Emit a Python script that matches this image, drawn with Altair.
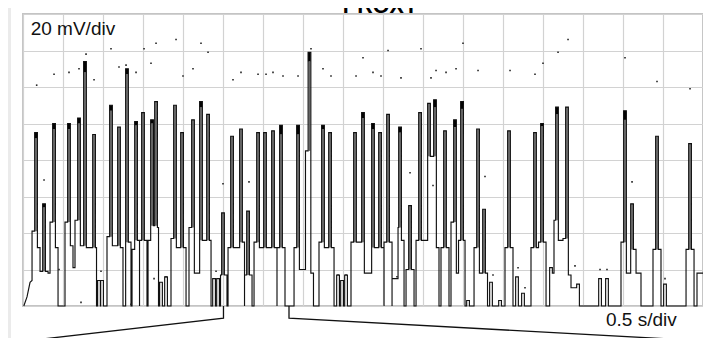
import altair as alt
import pandas as pd

# ---- scope settings ----
V_PER_DIV = 20      # mV per division
T_PER_DIV = 0.5     # s per division
T_MAX = 8.5         # 17 divisions
V_MAX = 160         # 8 divisions
x_ticks = [0.0, 0.5, 1.0, 1.5, 2.0, 2.5, 3.0, 3.5, 4.0, 4.5, 5.0, 5.5,
           6.0, 6.5, 7.0, 7.5, 8.0, 8.5]
y_ticks = [0, 20, 40, 60, 80, 100, 120, 140, 160]
title_text = "PROXY"

# ---- trace, read as pulses (time s, levels mV) ----
pulse_t = [0.163, 0.263, 0.388, 0.575, 0.700, 0.775, 0.888, 0.950, 0.988, 1.100,
           1.200, 1.300, 1.413, 1.500, 1.613, 1.663, 1.725, 1.788, 1.900, 1.988,
           2.125, 2.225, 2.313, 2.388, 2.438, 2.500, 2.613, 2.725, 2.813, 2.938,
           3.025, 3.125, 3.225, 3.438, 3.581, 3.750, 3.838, 3.938, 3.988, 4.038,
           4.150, 4.250, 4.375, 4.463, 4.563, 4.663, 4.713, 4.838, 4.963, 5.075,
           5.150, 5.275, 5.400, 5.488, 5.563, 5.688, 5.763, 5.850, 5.963, 6.075,
           6.175, 6.250, 6.400, 6.488, 6.600, 6.675, 6.800, 6.938, 7.213, 7.300,
           7.525, 7.613, 7.775, 7.925, 8.025, 8.338, 8.475]
pulse_peak = [95, 56, 100, 100, 103, 134, 94, 14, 14, 110,
              98, 130, 101, 106, 102, 112, 13, 16, 110, 95,
              102, 112, 105, 15, 15, 51, 93, 97, 52, 95,
              95, 96, 99, 99, 139, 99, 95, 17, 14, 17,
              95, 106, 100, 95, 105, 15, 98, 55, 106, 111,
              113, 96, 102, 112, 3, 97, 53, 13, 3, 96,
              16, 7, 95, 100, 21, 109, 109, 12, 15, 15,
              107, 56, 0, 93, 12, 89, 18]
pulse_left = [41, 19, 46, 46, 47, 33, 32, 0, 0, 38,
              33, 0, 31, 36, 36, 44, 0, 0, 37, 32,
              43, 18, 36, 0, 0, 17, 32, 32, 17, 35,
              32, 32, 32, 32, 85, 35, 32, 0, 0, 0,
              35, 35, 18, 32, 35, 15, 43, 20, 36, 36,
              82, 32, 46, 36, 0, 32, 18, 0, 0, 32,
              0, 0, 32, 35, 0, 47, 37, 10, 0, 0,
              35, 18, 0, 31, 0, 31, 18]
pulse_right = [32, 19, 32, 33, 33, 32, 32, 0, 0, 33,
               32, 35, 36, 36, 44, 43, 0, 0, 32, 32,
               18, 36, 36, 0, 0, 17, 32, 35, 17, 32,
               32, 32, 32, 20, 18, 32, 32, 0, 0, 0,
               35, 18, 32, 32, 35, 15, 36, 20, 36, 82,
               32, 32, 18, 36, 0, 18, 18, 0, 0, 32,
               0, 0, 32, 35, 18, 36, 17, 0, 0, 0,
               18, 31, 0, 31, 0, 31, 18]
pulse_after = [19, 18, 0, 21, 33, 32, 0, 0, 0, 33,
               0, 0, 0, 0, 44, 0, 0, 0, 32, 0,
               18, 36, 0, 0, 0, 0, 32, 0, 0, 32,
               32, 0, 0, 20, 0, 32, 0, 0, 0, 0,
               35, 18, 32, 0, 0, 15, 0, 0, 36, 82,
               0, 0, 18, 0, 0, 18, 0, 0, 0, 0,
               0, 0, 32, 0, 18, 36, 10, 0, 0, 0,
               18, 18, 0, 0, 0, 0, 18]
pulse_cap = [3, 2, 3, 3, 3, 6, 0, 0, 0, 3,
             0, 3, 2, 0, 2, 0, 0, 0, 0, 0,
             0, 3, 0, 0, 0, 0, 0, 0, 0, 0,
             0, 0, 5, 5, 5, 2, 0, 0, 0, 0,
             0, 3, 3, 0, 0, 0, 3, 0, 0, 0,
             4, 0, 4, 4, 0, 0, 0, 0, 0, 0,
             0, 0, 0, 1.5, 0, 4, 0, 0, 0, 0,
             5, 0, 0, 0, 0, 0, 0]
lead_t = [0.01, 0.05, 0.088]
lead_v = [0, 5, 13]
lead_level = 14
end_t = 8.5

# ---- peak-detect dots ----
dot_t = [0.171, 0.388, 0.575, 0.700, 0.788, 0.888, 1.100, 1.200, 1.288, 1.413,
         1.513, 1.600, 1.663, 1.913, 2.000, 2.125, 2.225, 2.313, 2.625, 2.725,
         2.938, 3.038, 3.125, 3.250, 3.438, 3.600, 3.750, 3.850, 4.163, 4.250,
         4.375, 4.475, 4.563, 4.725, 4.975, 5.100, 5.163, 5.288, 5.413, 5.500,
         5.688, 6.088, 6.400, 6.500, 6.688, 6.813, 7.525, 7.925, 8.338,
         0.263, 0.450, 0.725, 0.975, 1.350, 1.638, 1.788, 2.413, 2.500, 2.825,
         3.938, 4.038, 4.675, 4.838, 5.125, 5.775, 5.875, 6.188, 6.275, 6.900,
         7.213, 7.300, 7.613, 8.025]
dot_v = [121, 127, 128, 130, 138, 124, 141, 131, 132, 128,
         141, 133, 144, 146, 126, 130, 144, 139, 124, 128,
         127, 127, 128, 126, 126, 141, 130, 126, 126, 136,
         128, 126, 140, 125, 141, 125, 129, 128, 130, 144,
         129, 129, 127, 133, 139, 146, 136, 123, 119,
         69, 20, 2, 19, 1, 15, 16, 19, 67, 68,
         17, 17, 16, 73, 66, 71, 17, 21, 10, 22,
         20, 20, 68, 15]

# ---- zoom window call-out ----
zoom_t = [2.506, 3.325]
callout_knee_v = -6.7
callout_end_t = [0.144, 8.308]
callout_end_v = -18.6

# ---- build trace polyline from the pulse readings ----
SPIKE_HALF = 0.017
SHOULDER_HALF = 0.05
n = len(pulse_t)
lefts = [c - SHOULDER_HALF for c in pulse_t]
rights = [c + SHOULDER_HALF for c in pulse_t]
for k in range(n - 1):
    if rights[k] > lefts[k + 1]:
        m = (pulse_t[k] + pulse_t[k + 1]) / 2
        rights[k] = m
        lefts[k + 1] = m

pts = list(zip(lead_t, lead_v))
prev = lead_level
for k in range(n):
    c = pulse_t[k]
    pk, sl, sr, af = pulse_peak[k], pulse_left[k], pulse_right[k], pulse_after[k]
    pts += [(lefts[k], prev), (lefts[k], sl), (c - SPIKE_HALF, sl), (c - SPIKE_HALF, pk),
            (c + SPIKE_HALF, pk), (c + SPIKE_HALF, sr), (rights[k], sr), (rights[k], af)]
    prev = af
pts.append((end_t, prev))
trace = pd.DataFrame({"i": range(len(pts)), "t": [p[0] for p in pts], "v": [p[1] for p in pts]})

inner_rows, cap_rows = [], []
for k in range(n):
    top = pulse_peak[k] - pulse_cap[k]
    base = max(pulse_left[k], pulse_right[k])
    if top - base > 20:
        inner_rows.append({"t": pulse_t[k], "lo": base, "hi": top})
    if pulse_cap[k] > 0:
        cap_rows.append({"t": pulse_t[k] - 0.002, "lo": top, "hi": pulse_peak[k]})
inner = pd.DataFrame(inner_rows)
caps = pd.DataFrame(cap_rows)
dots = pd.DataFrame({"t": dot_t, "v": dot_v})

call_rows = []
for g in range(2):
    call_rows += [{"g": g, "o": 0, "t": zoom_t[g], "v": 0},
                  {"g": g, "o": 1, "t": zoom_t[g], "v": callout_knee_v},
                  {"g": g, "o": 2, "t": callout_end_t[g], "v": callout_end_v}]
callouts = pd.DataFrame(call_rows)

# ---- encodings ----
xscale = alt.Scale(domain=[0, T_MAX], nice=False)
yscale = alt.Scale(domain=[0, V_MAX], nice=False)
xaxis = alt.Axis(values=x_ticks, grid=True, labels=False, ticks=False, domain=False, title=None)
yaxis = alt.Axis(values=y_ticks, grid=True, labels=False, ticks=False, domain=False, title=None)


def X(f):
    return alt.X(f, type="quantitative", scale=xscale, axis=xaxis)


def Y(f):
    return alt.Y(f, type="quantitative", scale=yscale, axis=yaxis)


strip = alt.Chart(pd.DataFrame({"a": [0]})).mark_rect(color="#ebebeb", clip=False).encode(
    x=alt.value(-23), x2=alt.value(-12), y=alt.value(-14), y2=alt.value(330))

inner_layer = alt.Chart(inner).mark_rule(color="#666666", strokeWidth=1.7).encode(
    x=X("t"), y=Y("lo"), y2="hi")
cap_layer = alt.Chart(caps).mark_rule(color="#000000", strokeWidth=2.8).encode(
    x=X("t"), y=Y("lo"), y2="hi")
trace_layer = alt.Chart(trace).mark_line(color="#111111", strokeWidth=1.15).encode(
    x=X("t"), y=Y("v"), order="i:Q")
dot_layer = alt.Chart(dots).mark_square(color="#222222", size=2.5, opacity=1).encode(
    x=X("t"), y=Y("v"))
call_layer = alt.Chart(callouts).mark_line(color="#111111", strokeWidth=1.3, clip=False).encode(
    x=X("t"), y=Y("v"), detail="g:N", order="o:Q")

labels = pd.DataFrame({
    "txt": [f"{V_PER_DIV} mV/div", f"{T_PER_DIV} s/div"],
})
vlabel = alt.Chart(labels.iloc[[0]]).mark_text(
    align="left", baseline="alphabetic", font="Liberation Sans", fontSize=19, color="#111111", clip=False
).encode(text="txt:N", x=alt.value(7.7), y=alt.value(21))
tlabel = alt.Chart(labels.iloc[[1]]).mark_text(
    align="right", baseline="alphabetic", font="Liberation Sans", fontSize=19, color="#111111", clip=False
).encode(text="txt:N", x=alt.value(653.7), y=alt.value(312))
title = alt.Chart(pd.DataFrame({"txt": [title_text]})).mark_text(
    align="center", baseline="alphabetic", font="Liberation Sans", fontSize=21.5,
    fontWeight="bold", color="#000000", clip=False
).encode(text="txt:N", x=alt.value(357.5), y=alt.value(-1.5))

chart = alt.layer(
    strip, inner_layer, cap_layer, trace_layer, dot_layer, call_layer, vlabel, tlabel, title
).properties(
    width=680, height=292,
    autosize=alt.AutoSizeParams(type="none"),
    padding={"left": 15, "top": 6, "right": 0, "bottom": 32},
    background="#ffffff",
).configure_view(
    stroke="#c4c4c4", strokeWidth=2
).configure_axis(
    gridColor="#d2d2d2", gridWidth=1.2, gridOpacity=1
)

chart.save("out.html", embed_options={"renderer": "svg", "actions": False})
